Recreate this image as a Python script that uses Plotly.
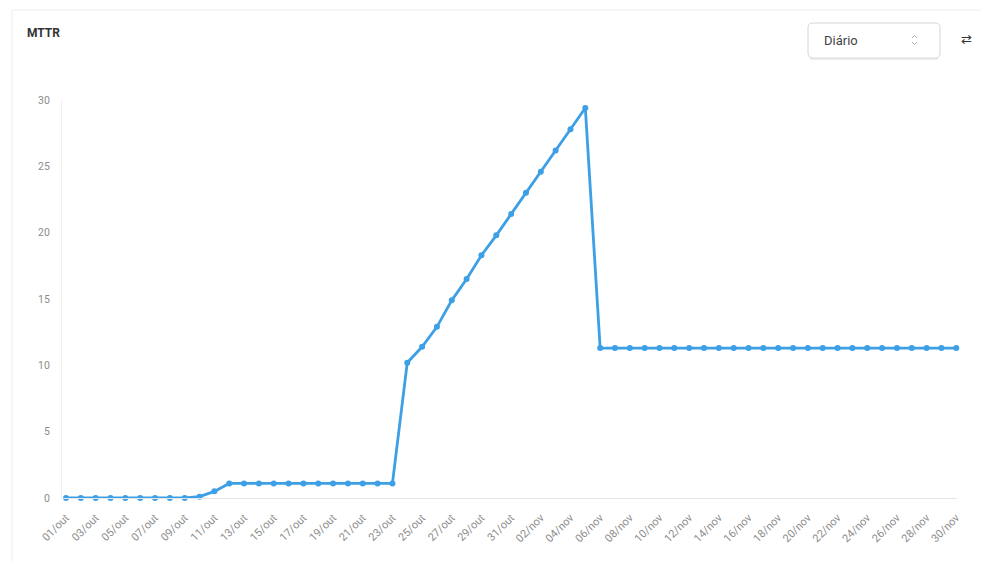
import plotly.graph_objects as go

W, H = 981, 561
ML, MR, MT, MB = 62, 24, 100, 63

oct_days = list(range(1, 32))
nov_days = list(range(1, 31))
labels = [f"{d:02d}/out" for d in oct_days] + [f"{d:02d}/nov" for d in nov_days]

mttr_oct = [0, 0, 0, 0, 0, 0, 0, 0, 0, 0.1, 0.5,
            1.1, 1.1, 1.1, 1.1, 1.1, 1.1, 1.1, 1.1, 1.1, 1.1, 1.1, 1.1,
            10.2, 11.4, 12.9, 14.9, 16.5, 18.3, 19.8, 21.4]
mttr_nov = [23.0, 24.6, 26.2, 27.8, 29.4] + [11.3] * 25
mttr = mttr_oct + mttr_nov

tick_labels = labels[::2]
y_ticks = [0, 5, 10, 15, 20, 25, 30]

PW = W - ML - MR
PH = H - MT - MB


def px(x):
    return (x - ML) / PW


def py(y):
    return 1 - (y - MT) / PH


blue = "#3d9fe6"

fig = go.Figure()
fig.add_trace(go.Scatter(
    x=labels, y=mttr, mode="lines+markers",
    line=dict(color=blue, width=2.8),
    marker=dict(color=blue, size=6),
    cliponaxis=False, hoverinfo="x+y",
))

shapes = [
    dict(type="rect", xref="paper", yref="paper",
         x0=px(12), x1=px(995), y0=py(575), y1=py(10),
         line=dict(color="#ededed", width=1), fillcolor="rgba(0,0,0,0)", layer="below"),
    # dropdown box
    dict(type="path", xref="paper", yref="paper",
         path=(f"M {px(813)} {py(23)} L {px(935)} {py(23)} "
               f"Q {px(940)} {py(23)} {px(940)} {py(28)} L {px(940)} {py(53)} "
               f"Q {px(940)} {py(58)} {px(935)} {py(58)} L {px(813)} {py(58)} "
               f"Q {px(808)} {py(58)} {px(808)} {py(53)} L {px(808)} {py(28)} "
               f"Q {px(808)} {py(23)} {px(813)} {py(23)} Z"),
         line=dict(color="#d6d6d6", width=1), fillcolor="white"),
    dict(type="line", xref="paper", yref="paper",
         x0=px(810), x1=px(938), y0=py(59), y1=py(59),
         line=dict(color="#e4e4e4", width=1.5)),
    # chevrons
    dict(type="path", xref="paper", yref="paper",
         path=f"M {px(912)} {py(38)} L {px(914.5)} {py(35.5)} L {px(917)} {py(38)}",
         line=dict(color="#b0b0b0", width=1)),
    dict(type="path", xref="paper", yref="paper",
         path=f"M {px(912)} {py(42)} L {px(914.5)} {py(44.5)} L {px(917)} {py(42)}",
         line=dict(color="#b0b0b0", width=1)),
]

annotations = [
    dict(text="<b>MTTR</b>", xref="paper", yref="paper", x=px(25), y=py(33),
         xanchor="left", yanchor="middle", showarrow=False,
         font=dict(size=12, color="#333333")),
    dict(text="Diário", xref="paper", yref="paper", x=px(822), y=py(40),
         xanchor="left", yanchor="middle", showarrow=False,
         font=dict(size=13, color="#444444")),
    dict(text="⇄", xref="paper", yref="paper", x=px(966), y=py(39),
         xanchor="center", yanchor="middle", showarrow=False,
         font=dict(size=13, color="#333333")),
]

fig.update_layout(
    width=W, height=H,
    margin=dict(l=ML, r=MR, t=MT, b=MB, pad=0),
    paper_bgcolor="white", plot_bgcolor="white",
    font=dict(family="Roboto, 'Open Sans', sans-serif", color="#888888"),
    showlegend=False,
    shapes=shapes, annotations=annotations,
    xaxis=dict(
        type="category", range=[-0.27, 60.05],
        tickmode="array", tickvals=tick_labels, ticktext=tick_labels,
        tickangle=-45, tickfont=dict(size=11, color="#8c8c8c"),
        showgrid=False, zeroline=False, showline=True,
        linecolor="#e6e6e6", linewidth=1, ticks="",
        ticklabelstandoff=8, fixedrange=True,
    ),
    yaxis=dict(
        range=[0, 30], tickvals=y_ticks,
        tickfont=dict(size=10.5, color="#8c8c8c"),
        showgrid=False, zeroline=False, showline=True,
        linecolor="#f0f0f0", linewidth=1, ticks="",
        ticklabelstandoff=9, fixedrange=True,
    ),
)

fig.write_html("out.html", config={"displayModeBar": False})
